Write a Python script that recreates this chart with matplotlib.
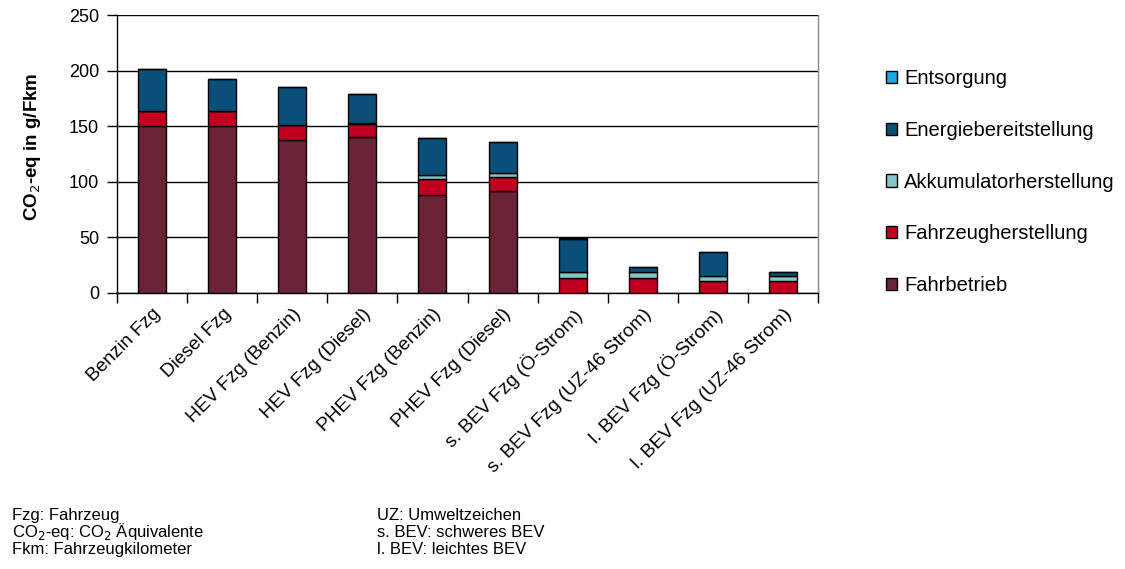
import matplotlib
matplotlib.use("Agg")
import matplotlib.pyplot as plt
import numpy as np

plt.rcParams['font.family'] = ['Liberation Sans', 'DejaVu Sans']

categories = ["Benzin Fzg", "Diesel Fzg", "HEV Fzg (Benzin)", "HEV Fzg (Diesel)",
              "PHEV Fzg (Benzin)", "PHEV Fzg (Diesel)", "s. BEV Fzg (Ö-Strom)",
              "s. BEV Fzg (UZ-46 Strom)", "l. BEV Fzg (Ö-Strom)", "l. BEV Fzg (UZ-46 Strom)"]

fahrbetrieb = [150.5, 150.5, 137.5, 140.5, 88.5, 91.5, 0, 0, 0, 0]
fahrzeugherstellung = [13.5, 13.5, 13.5, 11.5, 14, 13, 13.3, 13.3, 10.5, 10.5]
akkumulatorherstellung = [0, 0, 0, 1.0, 4, 3, 5.5, 5.5, 5, 5]
energiebereitstellung = [37.5, 28.5, 34.5, 26, 32.5, 28.5, 30.2, 4.7, 21.5, 3.5]
entsorgung = [0, 0, 0, 0, 0, 0, 0.5, 0, 0, 0]

series_names = ["Fahrbetrieb", "Fahrzeugherstellung", "Akkumulatorherstellung",
                "Energiebereitstellung", "Entsorgung"]
series_values = [fahrbetrieb, fahrzeugherstellung, akkumulatorherstellung,
                 energiebereitstellung, entsorgung]
colors = ["#6B2335", "#C0001E", "#86C4C7", "#0B5078", "#1EA6DF"]

yticks = [0, 50, 100, 150, 200, 250]

notes_left = ["Fzg: Fahrzeug", "CO$_2$-eq: CO$_2$ Äquivalente", "Fkm: Fahrzeugkilometer"]
notes_right = ["UZ: Umweltzeichen", "s. BEV: schweres BEV", "l. BEV: leichtes BEV"]

W, H = 1125, 569
fig = plt.figure(figsize=(W / 100, H / 100), dpi=100)
ax = fig.add_axes([117 / W, 1 - 293 / H, (818 - 117) / W, (293 - 15) / H])

x = np.arange(len(categories))
bottom = np.zeros(len(categories))
handles = []
for name, vals, c in zip(series_names, series_values, colors):
    v = np.array(vals, dtype=float)
    b = ax.bar(x, v, width=0.4, bottom=bottom, color=c, edgecolor="black",
               linewidth=1.0, label=name, zorder=3)
    handles.append(b)
    bottom += v

ax.set_xlim(-0.5, len(categories) - 0.5)
ax.set_ylim(0, 250)
ax.set_yticks(yticks)
ax.set_yticklabels([str(t) for t in yticks], fontsize=13)
ax.yaxis.grid(True, color="black", linewidth=1.0, zorder=0)
ax.set_axisbelow(True)

ax.set_xticks(np.arange(len(categories) + 1) - 0.5, minor=False)
ax.set_xticklabels([])
ax.tick_params(axis='x', which='major', direction='out', length=7, width=1, color='black')
ax.set_xticks(x, minor=True)
ax.set_xticklabels(categories, minor=True, rotation=45, ha='right',
                   rotation_mode='anchor', fontsize=13.8)
ax.tick_params(axis='x', which='minor', length=0, pad=9)
ax.tick_params(axis='y', direction='out', length=7, width=1, pad=6)

for s in ax.spines.values():
    s.set_color("black")
    s.set_linewidth(1.0)
ax.spines['right'].set_color("#888888")
ax.spines['top'].set_visible(False)

ax.set_ylabel("CO$_2$-eq in g/Fkm", fontsize=13.5, fontweight='bold')
ax.yaxis.set_label_coords((43 - 117) / 701, (293 - 146.5) / 278)

leg = fig.legend(handles[::-1], series_names[::-1], loc='upper left',
                 bbox_to_anchor=(886 / W, 1 - 69 / H), frameon=False, fontsize=14.5,
                 handlelength=0.55, handleheight=0.55, handletextpad=0.35,
                 labelspacing=1.63, borderaxespad=0, borderpad=0)

for i, (l, r) in enumerate(zip(notes_left, notes_right)):
    yb = 1 - (520 + 17 * i) / H
    fig.text(12 / W, yb, l, fontsize=12, va='baseline', ha='left')
    fig.text(377 / W, yb, r, fontsize=12, va='baseline', ha='left')

fig.savefig("out.png", dpi=100)
